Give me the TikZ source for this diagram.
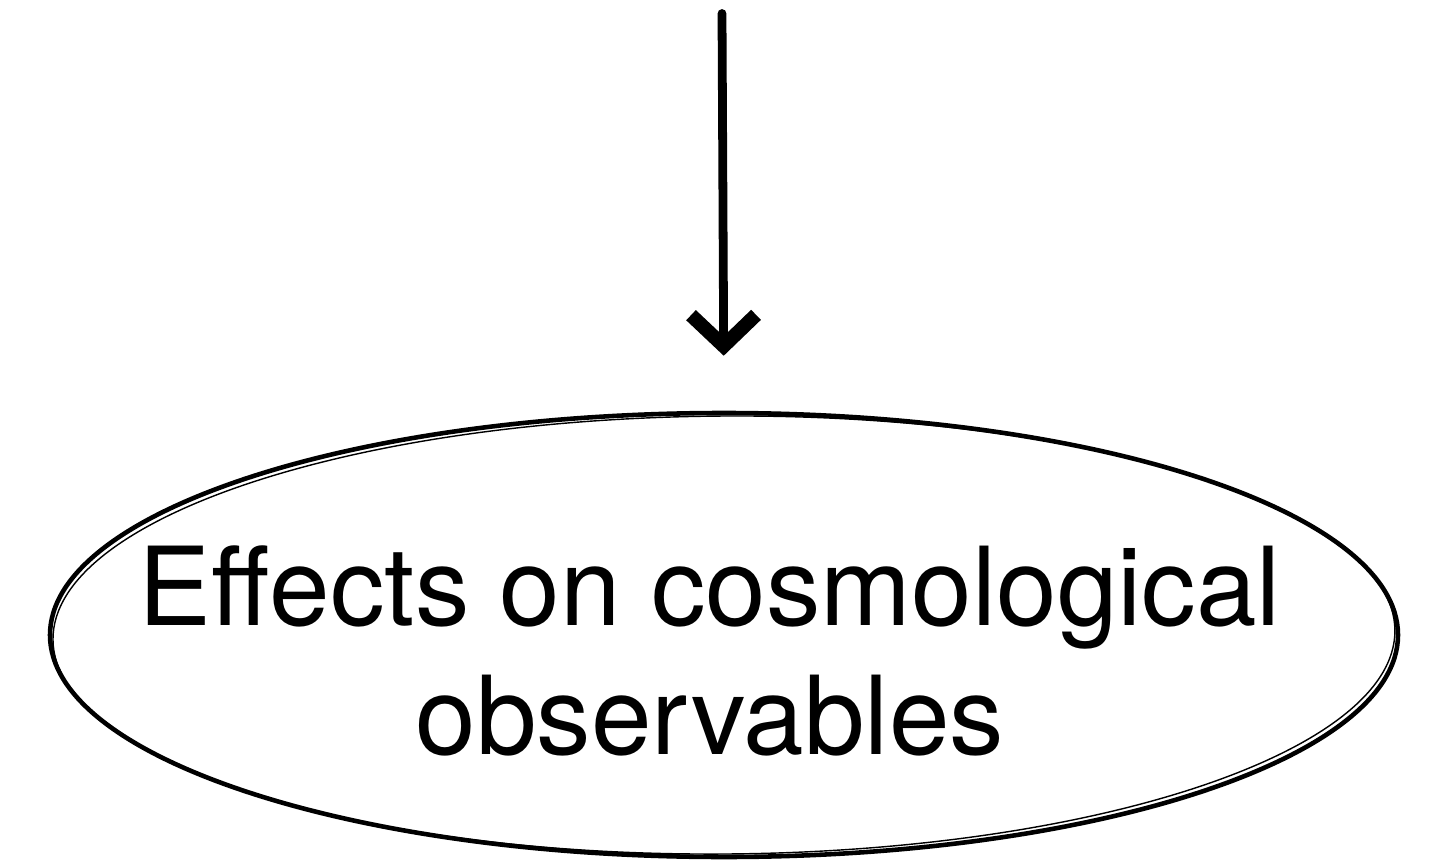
\documentclass[tikz,border=0pt]{standalone}
\usepackage{fontspec}
\setmainfont{TeX Gyre Heros}
\usepackage{tikz}
\usetikzlibrary{positioning, arrows.meta, shapes.geometric}

\begin{document}
\begin{tikzpicture}[
    sketch/.style={line width=2.6pt, line cap=round, line join=round},
    bubble/.style={ellipse, sketch, draw, inner sep=0pt,
      minimum width=26.96cm, minimum height=8.88cm},
    caption/.style={align=center, inner sep=0pt, font=\fontsize{62}{73}\selectfont}
  ]
  \useasboundingbox (0,0) rectangle (28.6,17.22);
  % target ellipse and its text
  \node[bubble] (effects) at (14.48,4.52) {};
  \node[caption] (effectstext) at (14.2,4.2) {Effects on cosmological\\observables};
  % second pencil stroke round the ellipse
  \draw[line width=0.8pt, rotate around={0.4:(effects.center)}]
    (effects.center) ellipse [x radius=13.42cm, y radius=4.38cm];
  % incoming arrow
  \coordinate (top) at (14.44,16.95);
  \draw[sketch, line width=5pt, -{Straight Barb[length=0.62cm, width=1.3cm, line width=8pt]},
    shorten >=1.1cm] (top) -- (effects.north);
\end{tikzpicture}
\end{document}
